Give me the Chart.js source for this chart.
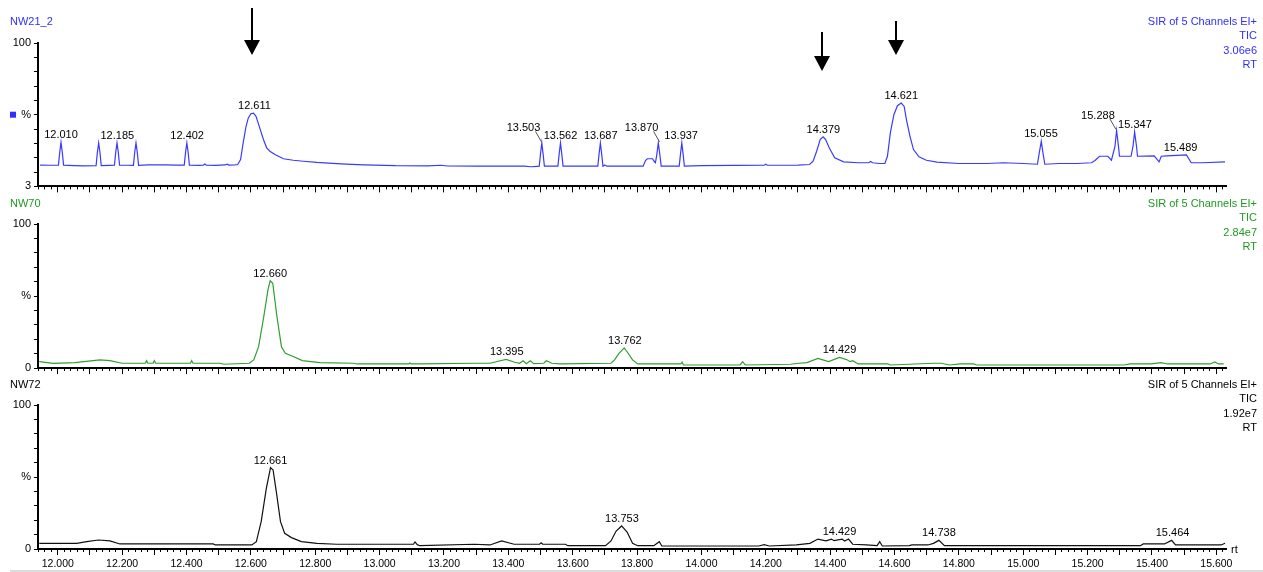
<!DOCTYPE html>
<html>
<head>
<meta charset="utf-8">
<script src="https://cdn.jsdelivr.net/npm/chart.js@4.4.1/dist/chart.umd.min.js"></script>
<style>
  body { margin: 0; background: #fff; width: 1263px; height: 572px; overflow: hidden; position: relative; }
  .panel { position: absolute; left: 0; width: 1263px; }
  .foot { position: absolute; left: 10px; right: 0; top: 570px; height: 2px; background: #dcdcdc; }
</style>
</head>
<body>
<div class="panel" style="top:0;height:196px"><canvas id="nw21"></canvas></div>
<div class="panel" style="top:196px;height:182px"><canvas id="nw70"></canvas></div>
<div class="panel" style="top:378px;height:194px"><canvas id="nw72"></canvas></div>
<div class="foot"></div>
<script>
// retention time (min) and intensity (%)
const rtNW21 = [11.945, 11.975, 12.002, 12.006, 12.010, 12.014, 12.018, 12.05, 12.08, 12.119, 12.123, 12.127, 12.131, 12.135, 12.160,
  12.176, 12.180, 12.184, 12.188, 12.192, 12.215, 12.235, 12.239, 12.243, 12.247, 12.251, 12.28, 12.33, 12.37,
  12.393, 12.397, 12.401, 12.405, 12.409, 12.44, 12.452, 12.457, 12.462, 12.49, 12.52, 12.526, 12.532, 12.550,
  12.559, 12.568, 12.576, 12.585, 12.592, 12.600, 12.608, 12.616, 12.626, 12.639, 12.649, 12.659, 12.675, 12.701,
  12.732, 12.763, 12.805, 12.88, 12.95, 13.05, 13.15, 13.19, 13.21, 13.30, 13.45, 13.47, 13.490,
  13.496, 13.500, 13.504, 13.508, 13.512, 13.530, 13.554, 13.558, 13.562, 13.566, 13.570, 13.620,
  13.678, 13.682, 13.686, 13.690, 13.694, 13.700, 13.706, 13.760, 13.819, 13.826, 13.832, 13.848, 13.853,
  13.857, 13.861, 13.866, 13.871, 13.875, 13.900, 13.931, 13.935, 13.939, 13.943, 13.947, 14.00, 14.10,
  14.195, 14.200, 14.205, 14.300, 14.336, 14.347, 14.358, 14.369, 14.378, 14.386, 14.397, 14.414, 14.442,
  14.487, 14.520, 14.526, 14.532, 14.553, 14.570, 14.578, 14.587, 14.598, 14.609, 14.621, 14.630, 14.637,
  14.648, 14.659, 14.676, 14.699, 14.732, 14.799, 14.888, 14.938, 15.000, 15.044, 15.050, 15.056, 15.061,
  15.067, 15.111, 15.167, 15.212, 15.223, 15.237, 15.263, 15.274, 15.285, 15.290, 15.296, 15.299, 15.335,
  15.341, 15.346, 15.352, 15.355, 15.407, 15.422, 15.429, 15.446, 15.507, 15.522, 15.558, 15.627];
const intNW21 = [17.4, 17.3, 17.4, 26, 32.8, 26, 17.4, 17.1, 16.9, 17.0, 26, 32.4, 26, 17.1, 17.2,
  17.3, 26, 32.4, 26, 17.3, 17.3, 17.2, 26, 32.4, 26, 17.2, 17.5, 17.6, 17.4,
  17.4, 26, 32.4, 26, 17.4, 17.2, 17.3, 18.2, 17.3, 17.2, 17.5, 18.0, 17.4, 17.6,
  17.8, 21.2, 32.4, 43.6, 49.3, 52.2, 52.6, 50.4, 43.6, 34.7, 29.1, 26.8, 24.6, 21.7,
  20.7, 20.0, 19.2, 18.2, 17.6, 17.0, 16.9, 17.3, 16.8, 16.7, 16.7, 16.3, 16.6,
  16.7, 25, 32.4, 25, 16.7, 16.7, 16.7, 25, 32.4, 25, 16.7, 16.7,
  16.7, 25, 32.4, 25, 16.7, 17.5, 16.7, 16.7, 16.7, 20.5, 21.7, 21.7, 20.0,
  19.0, 24, 32.4, 24, 16.7, 16.7, 16.7, 25, 32.4, 25, 16.7, 17.1, 17.2,
  17.3, 18.0, 17.3, 17.4, 17.8, 20.0, 26.8, 34.7, 36.5, 34.7, 29.1, 22.3, 19.6,
  19.0, 19.0, 19.8, 19.0, 18.5, 18.5, 23.4, 39.2, 51.5, 57.6, 59.4, 57.1, 48.1,
  36.9, 27.9, 23.0, 20.7, 19.4, 18.5, 18.5, 19.0, 18.5, 18.0, 26, 33.5, 26,
  18.0, 18.5, 18.5, 19.0, 20.5, 23.4, 23.4, 20.7, 30, 40.9, 30, 23.4, 23.4,
  30, 39.8, 30, 23.4, 23.6, 19.6, 23.4, 23.6, 24.3, 19.0, 19.0, 19.6];

const rtNW70 = [11.9425, 11.986, 12.053, 12.131, 12.162, 12.199, 12.272, 12.276, 12.280, 12.296, 12.300, 12.304,
  12.412, 12.416, 12.420, 12.504, 12.515, 12.595, 12.609, 12.624, 12.640, 12.653, 12.660, 12.668, 12.681,
  12.695, 12.707, 12.728, 12.760, 12.815, 12.918, 12.930, 13.090, 13.094, 13.098, 13.125, 13.293, 13.343,
  13.365, 13.393, 13.420, 13.435, 13.446, 13.456, 13.468, 13.479, 13.510, 13.518, 13.535, 13.560, 13.719,
  13.730, 13.744, 13.760, 13.769, 13.786, 13.802, 13.936, 13.940, 13.944, 14.120, 14.128, 14.136, 14.278,
  14.303, 14.328, 14.362, 14.395, 14.429, 14.454, 14.462, 14.470, 14.487, 14.579, 14.587, 14.720, 14.745,
  14.771, 14.804, 14.846, 14.855, 15.314, 15.331, 15.398, 15.428, 15.448, 15.581, 15.595, 15.607, 15.623];
const intNW70 = [4.4, 3.25, 3.7, 5.6, 5.1, 3.3, 3.3, 5.1, 3.3, 3.3, 5.1, 3.3,
  3.3, 5.1, 3.3, 3.3, 2.6, 3.3, 5.6, 14.8, 35.6, 54.2, 60.6, 58.8, 35.6,
  14.8, 10.2, 8.3, 5.1, 3.7, 3.3, 2.8, 2.8, 3.5, 2.8, 2.8, 3.3, 3.3,
  4.5, 6.0, 4.0, 3.3, 5.0, 3.0, 5.0, 3.0, 3.3, 5.0, 3.3, 2.8, 3.3,
  5.6, 10.2, 14.0, 11.3, 5.6, 2.8, 2.8, 4.0, 2.1, 2.1, 4.4, 2.1, 2.6,
  3.3, 3.7, 6.7, 4.4, 7.4, 5.6, 4.4, 5.1, 2.8, 2.8, 2.1, 3.3, 3.3,
  2.1, 2.8, 2.8, 2.1, 2.1, 2.8, 2.8, 3.7, 2.8, 2.8, 4.2, 2.8, 2.8];

const rtNW72 = [11.9425, 12.059, 12.090, 12.126, 12.162, 12.193, 12.483, 12.489, 12.603, 12.617, 12.632, 12.648,
  12.661, 12.669, 12.679, 12.692, 12.705, 12.726, 12.757, 12.805, 12.867, 13.105, 13.110, 13.117, 13.125,
  13.293, 13.343, 13.379, 13.418, 13.497, 13.502, 13.507, 13.577, 13.585, 13.702, 13.719, 13.735, 13.752,
  13.769, 13.786, 13.802, 13.852, 13.869, 13.877, 14.178, 14.195, 14.211, 14.295, 14.337, 14.362, 14.387,
  14.404, 14.412, 14.437, 14.445, 14.457, 14.470, 14.512, 14.546, 14.554, 14.562, 14.646, 14.654, 14.704,
  14.721, 14.738, 14.755, 15.364, 15.373, 15.439, 15.461, 15.473, 15.615, 15.627];
const intNW72 = [3.95, 3.95, 5.1, 6.25, 5.6, 3.5, 3.5, 2.8, 2.8, 5.1, 19, 42.1,
  56.5, 54.9, 39.8, 19, 10.9, 7.9, 5.1, 3.95, 3.3, 3.3, 4.9, 3.0, 2.3,
  3.3, 2.8, 5.6, 3.3, 3.3, 4.3, 3.3, 3.3, 2.3, 2.3, 5.6, 12.5, 16,
  11.8, 4, 2.3, 2.3, 5.1, 2.1, 2.1, 3.0, 2.1, 2.8, 3.9, 6.9, 5.6,
  6.9, 5.8, 6.9, 5.6, 6.9, 3.3, 2.8, 2.3, 5.1, 2.1, 2.3, 2.8, 2.8,
  3.9, 6.0, 2.3, 2.3, 3.5, 3.5, 6.0, 2.8, 2.8, 4.0];

// labelled peaks (RT)
const peaksNW21 = [12.010, 12.185, 12.402, 12.611, 13.503, 13.562, 13.687, 13.870, 13.937, 14.379, 14.621, 15.055, 15.288, 15.347, 15.489];
const peaksNW70 = [12.660, 13.395, 13.762, 14.429];
const peaksNW72 = [12.661, 13.753, 14.429, 14.738, 15.464];
const arrowsNW21 = [12.603, 14.376, 14.606];

const infoNW21 = ['SIR of 5 Channels EI+', 'TIC', '3.06e6', 'RT'];
const infoNW70 = ['SIR of 5 Channels EI+', 'TIC', '2.84e7', 'RT'];
const infoNW72 = ['SIR of 5 Channels EI+', 'TIC', '1.92e7', 'RT'];

const RT_MIN = 11.9385, RT_MAX = 15.63;
const FONT = '"Liberation Sans", Arial, sans-serif';
Chart.defaults.font.family = FONT;
Chart.defaults.color = '#000';

// value of the trace at rt (max of nearby points / interpolation)
function peakTop(data, rt) {
  let top = -Infinity;
  for (let i = 0; i < data.length; i++) {
    const p = data[i];
    if (Math.abs(p.x - rt) < 0.012) top = Math.max(top, p.y);
    if (i > 0 && data[i - 1].x <= rt && p.x >= rt) {
      const q = data[i - 1];
      top = Math.max(top, q.y + (p.y - q.y) * (rt - q.x) / (p.x - q.x));
    }
  }
  return top;
}

const decor = {
  id: 'decor',
  afterDatasetsDraw(chart, args, o) {
    const { ctx, chartArea: a, scales: { x, y } } = chart;
    const data = chart.data.datasets[0].data;
    ctx.save();
    ctx.font = '11px ' + FONT;
    ctx.textBaseline = 'middle';
    ctx.fillStyle = o.color;
    ctx.textAlign = 'left';
    ctx.fillText(o.name, 10, o.headY);
    ctx.textAlign = 'right';
    o.info.forEach((s, i) => ctx.fillText(s, 1257, o.headY + i * 14.3));
    if (o.mark) ctx.fillRect(10, y.getPixelForValue((y.min + y.max) / 2) - 3, 6, 6);

    ctx.fillStyle = '#000';
    ctx.strokeStyle = '#555';
    ctx.lineWidth = 1;
    ctx.textAlign = 'center';
    o.peaks.forEach(rt => {
      const px = x.getPixelForValue(rt);
      const py = y.getPixelForValue(peakTop(data, rt));
      const txt = rt.toFixed(3);
      if (o.shifted && o.shifted.includes(txt)) {
        ctx.fillText(txt, px - 18, py - 14.5);
        ctx.beginPath();
        ctx.moveTo(px - 6, py - 11.5);
        ctx.lineTo(px, py - 1);
        ctx.stroke();
      } else {
        ctx.fillText(txt, px, py - 7);
      }
    });

    (o.arrows || []).forEach((rt, i) => {
      const px = Math.round(x.getPixelForValue(rt));
      const [top, tip] = o.arrowY[i];
      ctx.fillRect(px - 1, top, 2, tip - top - 14);
      ctx.beginPath();
      ctx.moveTo(px - 8, tip - 15);
      ctx.lineTo(px + 8, tip - 15);
      ctx.lineTo(px, tip);
      ctx.closePath();
      ctx.fill();
    });

    if (o.rt) {
      ctx.textAlign = 'left';
      ctx.fillText('rt', a.right + 5, a.bottom + 1);
    }
    ctx.restore();
  }
};

function minorTicks(s) {
  const t = [];
  for (let i = Math.ceil(RT_MIN * 50); i <= Math.floor(RT_MAX * 50); i++) if (i % 5) t.push({ value: i / 50 });
  s.ticks = t;
}
function majorTicks(s) {
  const t = [];
  for (let i = Math.ceil(RT_MIN * 10); i <= Math.floor(RT_MAX * 10); i++) t.push({ value: i / 10 });
  s.ticks = t;
}

function panel(id, rt, val, opt) {
  const yMin = opt.yMin;
  return new Chart(document.getElementById(id), {
    type: 'line',
    data: {
      datasets: [{
        data: rt.map((t, i) => ({ x: t, y: val[i] })),
        borderColor: opt.line,
        borderWidth: 1.2,
        pointRadius: 0,
        tension: 0
      }]
    },
    options: {
      responsive: true,
      maintainAspectRatio: false,
      animation: false,
      events: [],
      layout: { padding: { top: opt.padTop, right: 37, left: 0, bottom: 0 } },
      plugins: {
        legend: { display: false },
        tooltip: { enabled: false },
        decor: {
          name: opt.name, info: opt.info, color: opt.text, headY: opt.headY,
          peaks: opt.peaks, shifted: opt.shifted, arrows: opt.arrows, arrowY: opt.arrowY,
          mark: opt.mark, rt: opt.showRt
        }
      },
      scales: {
        x: {
          type: 'linear', min: RT_MIN, max: RT_MAX, position: 'bottom',
          afterBuildTicks: minorTicks,
          afterFit: s => { s.height = 0; },
          ticks: { callback: () => '', autoSkip: false, maxRotation: 0, minRotation: 0 },
          grid: { drawOnChartArea: false, tickLength: 3, color: '#000', tickColor: '#000' },
          border: { display: true, color: '#000', width: 2 }
        },
        x2: {
          type: 'linear', min: RT_MIN, max: RT_MAX, position: 'bottom',
          afterBuildTicks: majorTicks,
          afterFit: s => { s.height = opt.axisH; },
          ticks: {
            autoSkip: false, maxRotation: 0, minRotation: 0, padding: 3,
            font: { size: 10.5 }, color: '#000',
            callback: v => (opt.labels && Math.round(v * 10) % 2 === 0) ? v.toFixed(3) : ''
          },
          grid: { drawOnChartArea: false, tickLength: 6, color: '#000', tickColor: '#000' },
          border: { display: false }
        },
        y: {
          min: yMin, max: 100,
          afterBuildTicks: s => {
            const t = [];
            for (let k = 0; k <= 10; k++) t.push({ value: yMin + k * (100 - yMin) / 10 });
            s.ticks = t;
          },
          afterFit: s => { s.width = 38; },
          ticks: {
            padding: 3, font: { size: 11 }, color: '#000', autoSkip: false,
            callback: (v, i) => i === 10 ? '100' : i === 5 ? '%' : i === 0 ? String(yMin) : ''
          },
          grid: { drawOnChartArea: false, tickLength: 4, color: '#000', tickColor: '#000' },
          border: { display: true, color: '#000', width: 2 }
        }
      }
    },
    plugins: [decor]
  });
}

panel('nw21', rtNW21, intNW21, {
  yMin: 3, padTop: 43, axisH: 9, line: '#3a3aff', text: '#2f2fff', name: 'NW21_2', info: infoNW21, headY: 22,
  peaks: peaksNW21, shifted: ['13.503', '13.870', '15.288'], arrows: arrowsNW21, arrowY: [[8, 55], [32, 71], [21, 55]],
  mark: true, labels: false
});
panel('nw70', rtNW70, intNW70, {
  yMin: 0, padTop: 28, axisH: 10, line: '#2f9f2f', text: '#1f9a1f', name: 'NW70', info: infoNW70, headY: 8,
  peaks: peaksNW70, labels: false
});
panel('nw72', rtNW72, intNW72, {
  yMin: 0, padTop: 27, axisH: 23, line: '#111', text: '#000', name: 'NW72', info: infoNW72, headY: 7,
  peaks: peaksNW72, labels: true, showRt: true
});
</script>
</body>
</html>
